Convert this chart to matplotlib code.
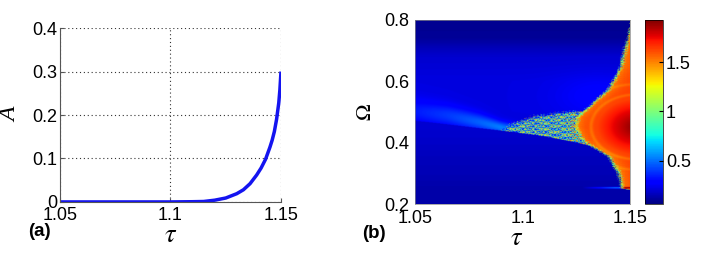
import numpy as np
import matplotlib
matplotlib.use("Agg")
import matplotlib.pyplot as plt

plt.rcParams["font.family"] = ["Liberation Sans", "DejaVu Sans"]
plt.rcParams["mathtext.fontset"] = "stix"

# =========================
# DATA
# =========================
# panel (a): amplitude A vs tau
tau_a = [1.05, 1.08, 1.10, 1.11, 1.115, 1.12, 1.125, 1.13, 1.133, 1.136,
         1.139, 1.141, 1.143, 1.145, 1.146, 1.147, 1.148, 1.149, 1.1495, 1.15]
amp_a = [0.0, 0.0, 0.0, 0.0005, 0.001, 0.004, 0.009, 0.019, 0.028, 0.042,
         0.062, 0.078, 0.098, 0.126, 0.142, 0.162, 0.19, 0.228, 0.258, 0.30]

# panel (b): map of Omega vs tau, described by region boundaries
edge_tau = [1.05, 1.058, 1.075, 1.094, 1.11, 1.125, 1.133, 1.15]
edge_omega = [0.470, 0.464, 0.450, 0.435, 0.420, 0.400, 0.386, 0.37]

red_omega = [0.20, 0.235, 0.25, 0.30, 0.353, 0.386, 0.41, 0.45, 0.48,
             0.50, 0.572, 0.647, 0.70, 0.73, 0.80]
red_tau = [1.16, 1.16, 1.1468, 1.1453, 1.141, 1.133, 1.128, 1.125, 1.126,
           1.129, 1.1405, 1.1465, 1.148, 1.1495, 1.152]

chaos_tau = [1.09, 1.095, 1.105, 1.115, 1.12, 1.13]
chaos_top = [0.437, 0.458, 0.482, 0.492, 0.497, 0.50]

upper_omega = [0.40, 0.50, 0.60, 0.68, 0.71, 0.74, 0.80]
upper_level = [0.20, 0.22, 0.22, 0.19, 0.15, 0.10, 0.09]
lower_omega = [0.20, 0.25, 0.30, 0.35, 0.40, 0.47]
lower_level = [0.13, 0.13, 0.15, 0.16, 0.18, 0.20]

tongue_tau = [1.05, 1.065, 1.08, 1.09, 1.10, 1.12, 1.15]
tongue_center = [0.50, 0.487, 0.465, 0.448, 0.44, 0.43, 0.42]
tongue_width = [0.042, 0.036, 0.028, 0.02, 0.016, 0.01, 0.01]
tongue_peak = [0.12, 0.18, 0.26, 0.32, 0.22, 0.06, 0.02]

cbar_min, cbar_max = 0.06, 1.93
x_ticks = [1.05, 1.1, 1.15]
x_labels = ["1.05", "1.1", "1.15"]
a_ticks = [0, 0.1, 0.2, 0.3, 0.4]
a_labels = ["0", "0.1", "0.2", "0.3", "0.4"]
om_ticks = [0.2, 0.4, 0.6, 0.8]
om_labels = ["0.2", "0.4", "0.6", "0.8"]
cb_ticks = [0.5, 1, 1.5]
cb_labels = ["0.5", "1", "1.5"]


# =========================
# BUILD MAP
# =========================
def build_map():
    tau = np.linspace(1.05, 1.15, 520)
    om = np.linspace(0.2, 0.8, 440)
    T, W = np.meshgrid(tau, om)

    edge = np.interp(T, edge_tau, edge_omega)
    above = W > edge

    Z = np.where(above,
                 np.interp(W, upper_omega, upper_level),
                 np.interp(W, lower_omega, lower_level))

    # light tongue just above the edge
    c = np.interp(T, tongue_tau, tongue_center)
    h = np.interp(T, tongue_tau, tongue_width)
    p = np.interp(T, tongue_tau, tongue_peak)
    Z = Z + np.where(above, p * np.exp(-((W - c) / h) ** 2), 0.0)
    # slightly brighter blue right of the tongue
    Z = Z + np.where(above, 0.06 * np.exp(-((T - 1.135) / 0.02) ** 2)
                     * np.exp(-((W - 0.55) / 0.07) ** 2), 0.0)

    # speckle texture for the irregular zone
    s = (np.sin(2100 * T + 4 * np.sin(330 * W))
         * np.cos(310 * W + 3 * np.sin(1300 * T)))
    s2 = (np.sin(1700 * T + 5 * np.cos(450 * W))
          * np.sin(420 * W + 2 * np.cos(2500 * T)))

    # ragged left boundary of the red zone
    red_left = np.interp(W, red_omega, red_tau) + 0.0012 * s2
    top = np.interp(T, chaos_tau, chaos_top) + 0.008 * s2
    chaos = (T > chaos_tau[0]) & above & (W < top) & (T < red_left)
    near = np.exp(-np.clip(red_left - T, 0, None) / 0.006)
    speckle = np.where(s > 0.15, 0.95 + 0.5 * s + 0.35 * near,
                       np.where(s < -0.35, 0.28, 0.6 + 0.3 * near))
    Z = np.where(chaos, speckle, Z)

    # thin yellow / cyan fringe at the red boundary
    fringe = (T > red_left - 0.0007) & (T < red_left + 0.0003) & (W > 0.235)
    Z = np.where(fringe, 1.05 + 0.3 * s, Z)

    # red region
    r = np.sqrt(((T - 1.153) / 0.015) ** 2 + ((W - 0.45) / 0.075) ** 2)
    red = 1.64 + 0.24 * np.clip(1.2 - r, 0, 1)
    red = red - 0.07 * np.exp(-((r - 1.4) / 0.06) ** 2)
    red = red - 0.06 * np.exp(-((r - 1.85) / 0.06) ** 2)
    red = red - 0.14 * np.exp(-np.clip(T - red_left, 0, None) / 0.004)
    Z = np.where((T >= red_left + 0.0003) & (W > 0.235), red, Z)

    # thin horizontal streak near the bottom
    streak = np.clip((T - 1.128) / 0.015, 0, 1) * np.exp(-((W - 0.252) / 0.0025) ** 2)
    Z = Z + 0.4 * streak
    return Z


# =========================
# PLOT
# =========================
def main():
    fig = plt.figure(figsize=(7.06, 2.65), dpi=100)

    # ----- panel (a)
    ax1 = fig.add_axes([0.085, 0.238, 0.313, 0.656])
    ax1.plot(tau_a, amp_a, color="#1414f0", lw=2.5, solid_capstyle="butt")
    ax1.set_xlim(1.05, 1.15)
    ax1.set_ylim(0, 0.4)
    ax1.set_xticks(x_ticks)
    ax1.set_xticklabels(x_labels)
    ax1.set_yticks(a_ticks)
    ax1.set_yticklabels(a_labels)
    ax1.grid(True, color="#333333", linestyle=(0, (1, 2.5)), linewidth=0.8)
    for side in ["top", "right"]:
        ax1.spines[side].set_visible(False)
    for side in ["left", "bottom"]:
        ax1.spines[side].set_color("#555555")
        ax1.spines[side].set_linewidth(0.8)
    ax1.tick_params(direction="in", length=3, labelsize=13, pad=2, color="#555555")
    ax1.tick_params(axis="x", pad=4)
    ax1.set_ylabel("A", family="Liberation Serif", style="italic", fontsize=17)
    ax1.yaxis.set_label_coords(-0.175, 0.5)
    ax1.set_xlabel(r"$\tau$", fontsize=19)
    ax1.xaxis.set_label_coords(0.5, -0.12)
    fig.text(0.040, 0.128, "(a)", fontsize=13.5, fontweight="bold",
             ha="left", va="center")

    # ----- panel (b)
    ax2 = fig.add_axes([0.588, 0.230, 0.3045, 0.695])
    Z = build_map()
    im = ax2.imshow(Z, extent=[1.05, 1.15, 0.2, 0.8], origin="lower",
                    aspect="auto", cmap="jet", vmin=cbar_min, vmax=cbar_max,
                    interpolation="bilinear")
    ax2.set_xticks(x_ticks)
    ax2.set_xticklabels(x_labels)
    ax2.set_yticks(om_ticks)
    ax2.set_yticklabels(om_labels)
    for sp in ax2.spines.values():
        sp.set_linewidth(0.5)
        sp.set_color("#888888")
    ax2.tick_params(direction="in", length=0, labelsize=13, pad=4)
    ax2.tick_params(axis="x", pad=4)
    ax2.set_ylabel(r"$\Omega$", fontsize=16)
    ax2.yaxis.set_label_coords(-0.18, 0.5)
    ax2.set_xlabel(r"$\tau$", fontsize=19)
    ax2.xaxis.set_label_coords(0.47, -0.12)
    fig.text(0.513, 0.117, "(b)", fontsize=13.5, fontweight="bold",
             ha="left", va="center")

    cax = fig.add_axes([0.9136, 0.230, 0.0255, 0.695])
    cb = fig.colorbar(im, cax=cax)
    cb.set_ticks(cb_ticks)
    cb.set_ticklabels(cb_labels)
    cb.outline.set_linewidth(0.5)
    cax.tick_params(direction="in", length=3, labelsize=13, pad=2)

    fig.savefig("out.png", dpi=100)
    plt.close(fig)


if __name__ == "__main__":
    main()
